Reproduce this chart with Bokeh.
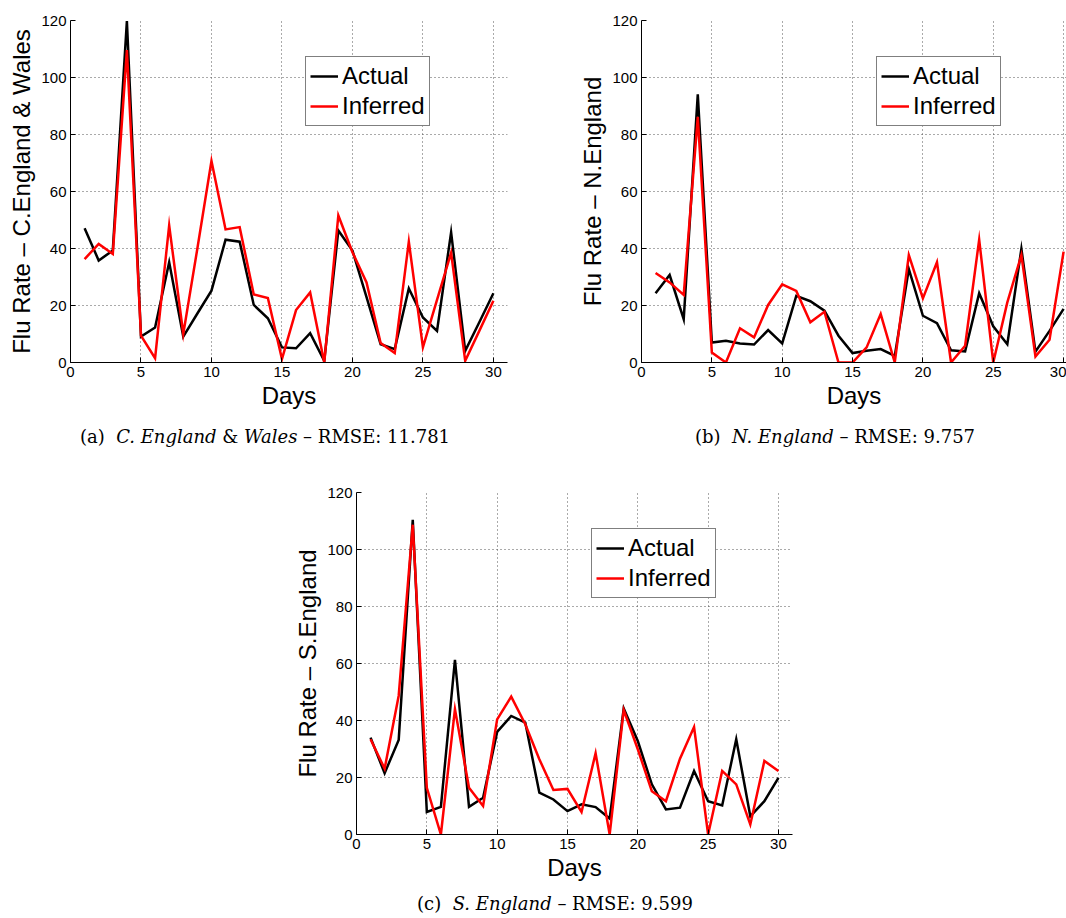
from bokeh.plotting import figure
from bokeh.layouts import column, row
from bokeh.models import Div, Spacer, FixedTicker, Range1d
from bokeh.embed import file_html
from bokeh.resources import INLINE

# Daily flu rates, actual vs. inferred, per region
days = list(range(1, 31))

ceaw_actual = [47.1, 35.8, 39.3, 119.8, 9.1, 12.3, 35.2, 9.1, 17.2, 25.2,
               43.1, 42.4, 20.2, 15.5, 5.3, 5.0, 10.3, 0.6, 46.3, 39.3,
               22.9, 6.4, 4.7, 26.0, 15.8, 11.1, 45.7, 4.1, 14.1, 24.3]
ceaw_inferred = [36.3, 41.6, 38.1, 109.6, 9.4, 1.5, 48.1, 10.0, 40.0, 70.7,
                 46.7, 47.5, 23.9, 22.6, 1.2, 18.4, 24.6, 0.0, 51.6, 38.7,
                 28.1, 6.8, 3.3, 42.4, 5.3, 22.0, 38.5, 0.6, 11.1, 21.7]

ne_actual = [24.3, 30.7, 15.2, 94.1, 7.0, 7.6, 6.7, 6.3, 11.4, 6.7,
             23.4, 21.5, 18.2, 9.4, 3.3, 4.1, 4.7, 2.3, 32.8, 16.4,
             13.8, 4.3, 3.9, 24.3, 12.7, 6.4, 39.9, 3.8, 11.1, 18.8]
ne_inferred = [31.4, 28.1, 23.7, 86.2, 3.5, 0.0, 12.0, 8.8, 20.2, 27.4,
               25.1, 14.1, 17.8, 0.0, 0.0, 5.3, 17.0, 0.0, 37.7, 22.5,
               35.2, 0.0, 5.9, 43.1, 0.0, 21.1, 37.7, 2.1, 8.0, 38.9]

se_actual = [34.0, 21.5, 33.2, 110.4, 7.9, 9.7, 61.3, 9.7, 12.9, 36.0,
             41.6, 39.3, 14.7, 12.3, 8.2, 10.6, 9.6, 5.6, 44.2, 32.8,
             17.6, 8.8, 9.4, 22.3, 11.7, 10.2, 33.4, 6.4, 11.7, 19.9]
se_inferred = [33.4, 23.1, 48.7, 108.7, 16.4, 0.0, 44.0, 16.4, 10.0, 40.4,
               48.4, 38.7, 26.4, 15.6, 16.0, 7.9, 28.5, 0.0, 43.7, 29.9,
               15.2, 11.7, 26.6, 37.7, 0.0, 22.3, 17.6, 3.5, 25.8, 22.3]

x_ticks = [0, 5, 10, 15, 20, 25, 30]
y_ticks = [0, 20, 40, 60, 80, 100, 120]

SANS = "Liberation Sans"


def panel(actual, inferred, ylabel, width, height, x_end,
          left, right, top, bottom):
    p = figure(width=width, height=height, output_backend="svg",
               toolbar_location=None,
               x_range=Range1d(0, x_end), y_range=Range1d(0, 120),
               min_border_left=left, min_border_right=right,
               min_border_top=top, min_border_bottom=bottom)
    p.outline_line_color = None
    p.background_fill_color = "white"

    p.line(days, actual, line_color="black", line_width=2.5,
           line_join="miter", legend_label="Actual")
    p.line(days, inferred, line_color="#ff0000", line_width=2.5,
           line_join="miter", legend_label="Inferred")

    p.xaxis.ticker = FixedTicker(ticks=x_ticks)
    p.yaxis.ticker = FixedTicker(ticks=y_ticks)
    for ax in (p.xaxis[0], p.yaxis[0]):
        ax.axis_line_color = "black"
        ax.axis_line_width = 1
        ax.major_tick_in = 5
        ax.major_tick_out = 0
        ax.minor_tick_line_color = None
        ax.major_tick_line_color = "black"
        ax.major_label_text_font = SANS
        ax.major_label_text_font_size = "15px"
        ax.major_label_text_color = "black"
        ax.axis_label_text_font = SANS
        ax.axis_label_text_font_size = "24px"
        ax.axis_label_text_font_style = "normal"
        ax.axis_label_text_color = "black"
    p.xaxis.axis_label = "Days"
    p.xaxis.major_label_standoff = 4
    p.xaxis.axis_label_standoff = 2
    p.yaxis.axis_label = ylabel
    p.yaxis.major_label_standoff = 4
    p.yaxis.axis_label_standoff = 3

    p.grid.grid_line_color = "#555555"
    p.grid.grid_line_width = 1
    p.grid.grid_line_dash = "1 3"

    lg = p.legend[0]
    lg.location = (235, 236)
    lg.label_text_font = SANS
    lg.label_text_font_size = "24px"
    lg.label_text_color = "black"
    lg.border_line_color = "black"
    lg.border_line_width = 1
    lg.background_fill_color = "white"
    lg.background_fill_alpha = 1.0
    lg.padding = 4
    lg.spacing = 0
    lg.margin = 0
    lg.glyph_width = 28
    lg.glyph_height = 30
    lg.label_height = 30
    lg.label_standoff = 4
    return p


# frame: 342 px tall in every panel; 49 px below for ticks and "Days"
fig_a = panel(ceaw_actual, ceaw_inferred, "Flu Rate \u2013 C.England & Wales",
              533, 411, 31, 70, 26, 20, 49)
fig_b = panel(ne_actual, ne_inferred, "Flu Rate \u2013 N.England",
              533, 411, 425 / 14.07, 108, 0, 20, 49)
fig_c = panel(se_actual, se_inferred, "Flu Rate \u2013 S.England",
              562, 426, 31, 106, 20, 35, 49)

CAP = "font-family:'DejaVu Serif';font-size:18px;color:black;white-space:nowrap;line-height:21px;"

cap_top = Div(width=1066, height=46, margin=0, text=(
    f'<div style="position:relative;width:1066px;height:46px;{CAP}">'
    '<div style="position:absolute;left:0;top:15px;width:530px;text-align:center;">'
    '(a)&nbsp;&nbsp;<i>C. England</i> &amp; <i>Wales</i> \u2013 RMSE: 11.781</div>'
    '<div style="position:absolute;left:600px;top:15px;width:470px;text-align:center;">'
    '(b)&nbsp;&nbsp;<i>N. England</i> \u2013 RMSE: 9.757</div>'
    '</div>'))

cap_bottom = Div(width=1066, height=35, margin=0, text=(
    f'<div style="position:relative;width:1066px;height:35px;{CAP}">'
    '<div style="position:absolute;left:355px;top:10px;width:400px;text-align:center;">'
    '(c)&nbsp;&nbsp;<i>S. England</i> \u2013 RMSE: 9.599</div>'
    '</div>'))

layout = column(
    row(fig_a, fig_b, spacing=0),
    cap_top,
    row(Spacer(width=250, height=426, margin=0), fig_c, spacing=0),
    cap_bottom,
    spacing=0,
)

open("out.html", "w").write(file_html(layout, INLINE))
